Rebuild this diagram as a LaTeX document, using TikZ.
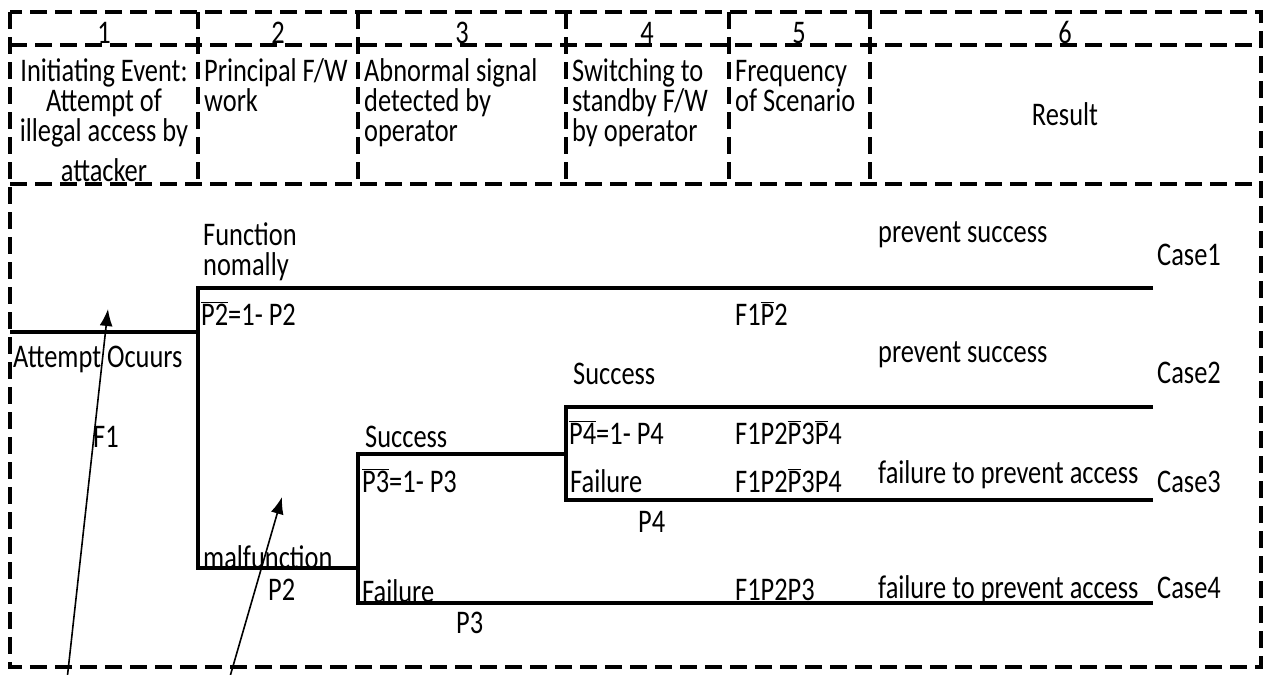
\documentclass[tikz,border=0pt]{standalone}
\usepackage{fontspec}
\setmainfont{Carlito}[FakeStretch=0.8]
\usetikzlibrary{arrows.meta}
\newcommand\obar[1]{\ensuremath{\overline{\hbox{#1}}}}
\begin{document}
\begin{tikzpicture}[x=1pt,y=-1pt,
  dsh/.style={line width=4.5pt, dash pattern=on 17pt off 8pt},
  tree/.style={line width=4.7pt},
  txt/.style={inner sep=0pt, font=\fontsize{33}{30}\selectfont},
  lbl/.style={txt, anchor=base west},
  ctr/.style={txt, anchor=base},
  arr/.style={line width=1.6pt, -{Latex[length=17pt,width=13pt]}}]
\useasboundingbox (0,0) rectangle (1267,675);
% frame
\draw[dsh] (10,12) rectangle (1261,667);
\draw[dsh] (10,45) -- (1261,45);
\draw[dsh] (10,184) -- (1261,184);
\foreach \x in {198,358,566,729,870} \draw[dsh] (\x,12) -- (\x,184);
% numbers
\node[ctr] (n1) at (104,43) {1};
\node[ctr] (n2) at (278,43) {2};
\node[ctr] (n3) at (462,43) {3};
\node[ctr] (n4) at (647,43) {4};
\node[ctr] (n5) at (799,43) {5};
\node[ctr] (n6) at (1065,43) {6};
% headers
\node[ctr] (h1a) at (104,81) {Initiating Event:};
\node[ctr] (h1b) at (104,111) {Attempt of};
\node[ctr] (h1c) at (104,141) {illegal access by};
\node[ctr] (h1d) at (104,181) {attacker};
\node[lbl] (h2a) at (204,81) {Principal F/W};
\node[lbl] (h2b) at (204,111) {work};
\node[lbl] (h3a) at (364,81) {Abnormal signal};
\node[lbl] (h3b) at (364,111) {detected by};
\node[lbl] (h3c) at (364,141) {operator};
\node[lbl] (h4a) at (572,81) {Switching to};
\node[lbl] (h4b) at (572,111) {standby F/W};
\node[lbl] (h4c) at (572,141) {by operator};
\node[lbl] (h5a) at (735,81) {Frequency};
\node[lbl] (h5b) at (735,111) {of Scenario};
\node[ctr] (h6) at (1065,125) {Result};
% tree coordinates
\coordinate (a0) at (10,332);
\coordinate (a1) at (198,332);
\coordinate (b0) at (198,288);
\coordinate (b1) at (1153,288);
\coordinate (c0) at (198,568);
\coordinate (c1) at (358,568);
\coordinate (d0) at (358,454);
\coordinate (d1) at (566,454);
\coordinate (e0) at (358,603);
\coordinate (e1) at (1153,603);
\coordinate (f0) at (566,407);
\coordinate (f1) at (1153,407);
\coordinate (g0) at (566,500);
\coordinate (g1) at (1153,500);
\draw[tree] (a0) -- (a1);
\draw[tree] (b1) -- (b0) -- (c0) -- (c1);
\draw[tree] (d1) -- (d0) -- (e0) -- (e1);
\draw[tree] (f1) -- (f0) -- (g0) -- (g1);
% labels
\node[lbl] (l1) at (203,245) {Function};
\node[lbl] (l2) at (203,275) {nomally};
\node[lbl] (l3) at (201,325) {\obar{P2}=1- P2};
\node[lbl] (l4) at (13,367) {Attempt Ocuurs};
\node[lbl] (l5) at (93,447) {F1};
\node[lbl] (l6) at (365,447) {Success};
\node[lbl] (l7) at (362,492) {\obar{P3}=1- P3};
\node[lbl] (l8) at (573,384) {Success};
\node[lbl] (l9) at (569,444) {\obar{P4}=1- P4};
\node[lbl] (l10) at (570,492) {Failure};
\node[lbl] (l11) at (638,532) {P4};
\node[lbl] (l12) at (203,568) {malfunction};
\node[lbl] (l13) at (268,600) {P2};
\node[lbl] (l14) at (362,602) {Failure};
\node[lbl] (l15) at (456,633) {P3};
\node[lbl] (l16) at (735,325) {F1\obar{P}2};
\node[lbl] (l17) at (735,444) {F1P2\obar{P}3\obar{P}4};
\node[lbl] (l18) at (735,492) {F1P2\obar{P}3P4};
\node[lbl] (l19) at (735,600) {F1P2P3};
\node[lbl] (l20) at (878,242) {prevent success};
\node[lbl] (l21) at (878,362) {prevent success};
\node[lbl] (l22) at (878,483) {failure to prevent access};
\node[lbl] (l23) at (878,598) {failure to prevent access};
\node[lbl] (k1) at (1157,265) {Case1};
\node[lbl] (k2) at (1157,383) {Case2};
\node[lbl] (k3) at (1157,492) {Case3};
\node[lbl] (k4) at (1157,598) {Case4};
% arrows
\coordinate (t1) at (67,680);
\coordinate (t2) at (229,680);
\coordinate (p1) at (108,309);
\coordinate (p2) at (282,497);
\draw[arr] (t1) -- (p1);
\draw[arr] (t2) -- (p2);
\end{tikzpicture}
\end{document}
